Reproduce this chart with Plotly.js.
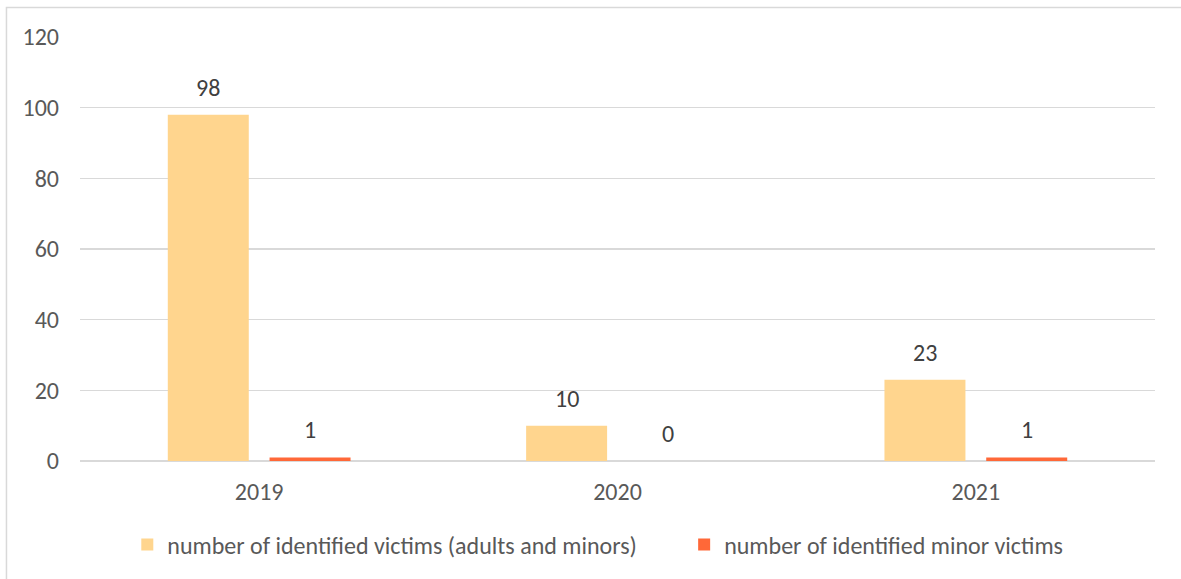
<!DOCTYPE html>
<html>
<head>
<meta charset="utf-8">
<script src="https://cdn.plot.ly/plotly-3.0.1.min.js"></script>
<style>html,body{margin:0;padding:0;background:#fff;}#chart{width:1181px;height:579px;}</style>
</head>
<body>
<div id="chart"></div>
<script>
const years = ['2019', '2020', '2021'];
const allVictims = [98, 10, 23];
const minorVictims = [1, 0, 1];
const seriesNames = ['number of identified victims (adults and minors)', 'number of identified minor victims'];
const yTicks = [0, 20, 40, 60, 80, 100, 120];

const fontFam = 'Carlito, Lato, "Open Sans", sans-serif';
const textCol = '#595959';
const fs = 24;

const barW = 0.226;
const offs = [-0.255, 0.029];
const catPx = 1075 / 3;

const traces = [
  {type: 'bar', x: years, y: allVictims, name: seriesNames[0],
   marker: {color: '#FFD58E'}, width: barW, offset: offs[0], legend: 'legend'},
  {type: 'bar', x: years, y: minorVictims, name: seriesNames[1],
   marker: {color: '#FF6838'}, width: barW, offset: offs[1], legend: 'legend2'}
];

const annotations = [];
[allVictims, minorVictims].forEach((vals, si) => {
  vals.forEach((v, i) => {
    annotations.push({x: i, y: v, xref: 'x', yref: 'y', text: String(v), showarrow: false,
      yanchor: 'bottom', yshift: 11, xshift: (offs[si] + barW / 2) * catPx,
      font: {family: fontFam, size: fs, color: '#404040'}});
  });
});

const legendBase = {orientation: 'h', xanchor: 'left', y: -0.198, yanchor: 'middle',
  font: {family: fontFam, size: fs, color: textCol}, itemwidth: 30, bgcolor: 'rgba(0,0,0,0)'};

const layout = {
  width: 1181, height: 579,
  margin: {l: 80, r: 26, t: 37, b: 118},
  paper_bgcolor: '#ffffff', plot_bgcolor: '#ffffff',
  font: {family: fontFam, size: fs, color: textCol},
  barmode: 'overlay',
  showlegend: true,
  legend: Object.assign({}, legendBase, {x: 0.044}),
  legend2: Object.assign({}, legendBase, {x: 0.562}),
  xaxis: {type: 'category', range: [-0.5, years.length - 0.5], autorange: false,
          showgrid: false, zeroline: false, showline: false, ticks: '',
          ticklabelstandoff: 14, tickfont: {family: fontFam, size: fs, color: textCol}},
  yaxis: {range: [0, 120], autorange: false, tickvals: yTicks, showgrid: true, gridcolor: '#D9D9D9', gridwidth: 1.5,
          zeroline: true, zerolinecolor: '#D9D9D9', zerolinewidth: 1.5, showline: false, ticks: '',
          ticklabelstandoff: 20, tickfont: {family: fontFam, size: fs, color: textCol}},
  annotations: annotations,
  shapes: [{type: 'rect', xref: 'paper', yref: 'paper', x0: -0.0684, x1: 1.2, y0: -0.5, y1: 1.0696,
            line: {color: '#D9D9D9', width: 1.5}, fillcolor: 'rgba(0,0,0,0)', layer: 'below'}]
};

Plotly.newPlot('chart', traces, layout, {displayModeBar: false, staticPlot: true});
</script>
</body>
</html>
